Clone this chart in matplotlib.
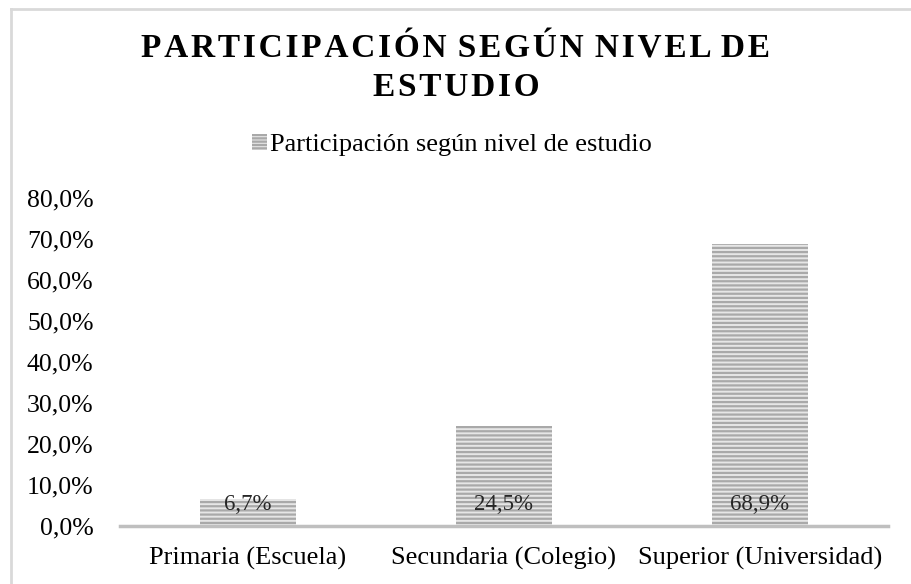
import matplotlib.pyplot as plt
from matplotlib.lines import Line2D
from matplotlib.patches import Patch

# datos del grafico
categorias = ['Primaria (Escuela)', 'Secundaria (Colegio)', 'Superior (Universidad)']
valores = [6.7, 24.5, 68.9]
etiquetas = ['6,7%', '24,5%', '68,9%']
ticks_y = [0, 10, 20, 30, 40, 50, 60, 70, 80]
serie = 'Participación según nivel de estudio'

plt.rcParams['font.family'] = ['Liberation Serif', 'DejaVu Serif']
plt.rcParams['hatch.linewidth'] = 1.6

fig = plt.figure(figsize=(9.12, 5.84), dpi=100)
W, H = 912, 584
ax = fig.add_axes([120 / W, 1 - 526 / H, (888 - 120) / W, (526 - 198) / H])

x = range(len(categorias))
bars = ax.bar(x, valores, width=0.375, color='#e6e6e6', hatch='----',
              edgecolor='#a9a9a9', linewidth=0)

for b, lab in zip(bars, etiquetas):
    ax.text(b.get_x() + b.get_width() / 2, 4.0, lab, ha='center', va='baseline',
            fontsize=16.5, color='#262626')

ax.set_xlim(-0.5, 2.5)
ax.set_ylim(0, 80)
ax.set_yticks(ticks_y)
ax.set_yticklabels([f'{v:.1f}%'.replace('.', ',') for v in ticks_y])
ax.set_xticks(list(x))
ax.set_xticklabels(categorias)
ax.tick_params(axis='both', length=0, labelsize=19, colors='black')
ax.tick_params(axis='y', labelsize=18.5, pad=19)
ax.tick_params(axis='x', pad=15)
for s in ['top', 'right', 'left']:
    ax.spines[s].set_visible(False)
ax.spines['bottom'].set_color('#bfbfbf')
ax.spines['bottom'].set_linewidth(2.5)


def espaciado(t):
    # letras separadas con espacio muy fino
    return ' \u200a'.join('\u200a'.join(p) for p in t.split(' '))


fig.text(0.5, 1 - 58 / H, espaciado('PARTICIPACIÓN SEGÚN NIVEL DE'),
         ha='center', va='baseline', fontsize=24, fontweight='bold')
fig.text(0.5, 1 - 96 / H, espaciado('ESTUDIO'), ha='center', va='baseline',
         fontsize=24, fontweight='bold')

# leyenda
leg_handle = Patch(facecolor='#e6e6e6', hatch='-----', edgecolor='#a9a9a9', linewidth=0)
fig.legend([leg_handle], [serie], loc='center', bbox_to_anchor=(452 / W, 1 - 145 / H),
           frameon=False, fontsize=19, handlelength=0.55, handleheight=0.55,
           handletextpad=0.1)

# borde del cuadro
fig.add_artist(Line2D([11 / W, 1], [1 - 9 / H, 1 - 9 / H], color='#d9d9d9', lw=2,
                      transform=fig.transFigure))
fig.add_artist(Line2D([11 / W, 11 / W], [0, 1 - 9 / H], color='#d9d9d9', lw=2,
                      transform=fig.transFigure))

fig.savefig('out.png', dpi=100)
